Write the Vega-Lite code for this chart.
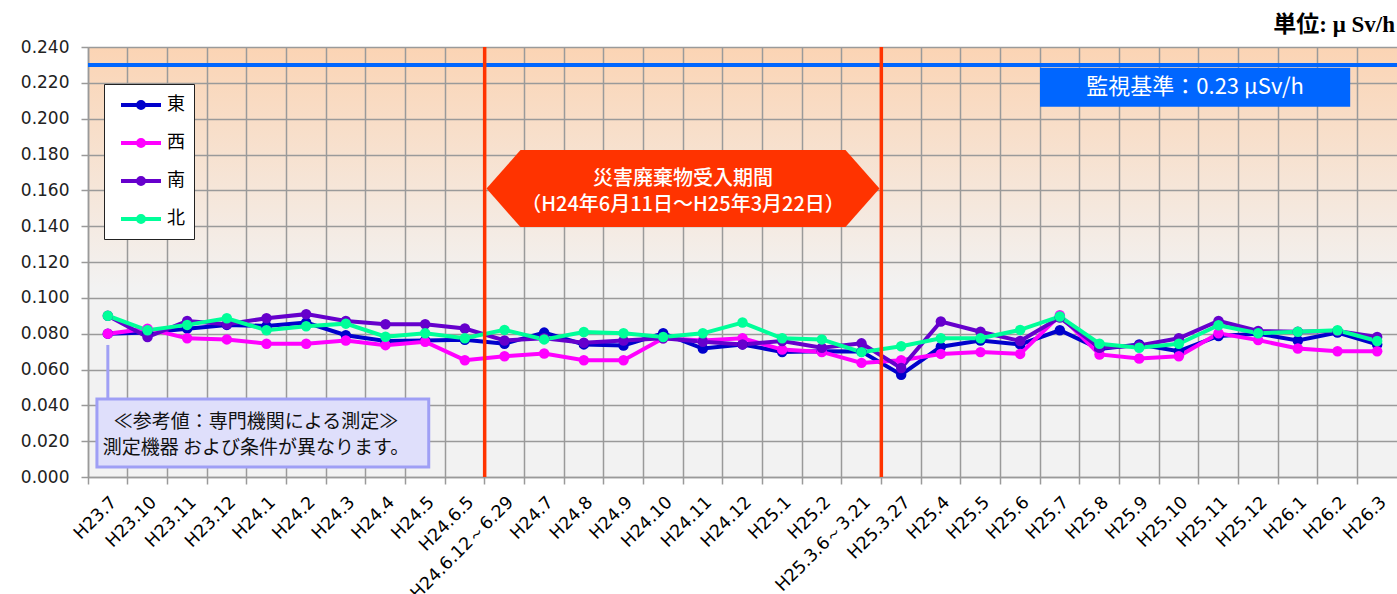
{
  "$schema": "https://vega.github.io/schema/vega-lite/v6.json",
  "width": 1309,
  "height": 430,
  "autosize": "none",
  "padding": {"left": 88, "top": 47, "right": 0, "bottom": 117},
  "background": "white",
  "config": {"axisY": {"labelOverlap": false}, "axisQuantitative": {"labelOverlap": false}},
  "view": {
    "fill": {"gradient": "linear", "x1": 0, "y1": 0, "x2": 0, "y2": 1,
      "stops": [{"offset": 0, "color": "#fbd4b4"}, {"offset": 0.56, "color": "#f2f2f2"}, {"offset": 1, "color": "#f2f2f2"}]},
    "stroke": null
  },
  "title": {
    "text": "単位: μ Sv/h",
    "anchor": "end",
    "font": "Liberation Serif, Noto Sans CJK JP",
    "fontSize": 23,
    "fontWeight": "bold",
    "color": "#000",
    "offset": 1,
    "dx": -4
  },
  "data": {
    "values": [
      {"t": "H23.7", "s": "東", "v": 0.0800}, {"t": "H23.7", "s": "西", "v": 0.0800}, {"t": "H23.7", "s": "南", "v": 0.0900}, {"t": "H23.7", "s": "北", "v": 0.0900},
      {"t": "H23.10", "s": "東", "v": 0.0806}, {"t": "H23.10", "s": "西", "v": 0.0828}, {"t": "H23.10", "s": "南", "v": 0.0781}, {"t": "H23.10", "s": "北", "v": 0.0819},
      {"t": "H23.11", "s": "東", "v": 0.0828}, {"t": "H23.11", "s": "西", "v": 0.0774}, {"t": "H23.11", "s": "南", "v": 0.0871}, {"t": "H23.11", "s": "北", "v": 0.0849},
      {"t": "H23.12", "s": "東", "v": 0.0849}, {"t": "H23.12", "s": "西", "v": 0.0768}, {"t": "H23.12", "s": "南", "v": 0.0853}, {"t": "H23.12", "s": "北", "v": 0.0886},
      {"t": "H24.1", "s": "東", "v": 0.0843}, {"t": "H24.1", "s": "西", "v": 0.0744}, {"t": "H24.1", "s": "南", "v": 0.0886}, {"t": "H24.1", "s": "北", "v": 0.0819},
      {"t": "H24.2", "s": "東", "v": 0.0862}, {"t": "H24.2", "s": "西", "v": 0.0744}, {"t": "H24.2", "s": "南", "v": 0.0909}, {"t": "H24.2", "s": "北", "v": 0.0841},
      {"t": "H24.3", "s": "東", "v": 0.0791}, {"t": "H24.3", "s": "西", "v": 0.0762}, {"t": "H24.3", "s": "南", "v": 0.0871}, {"t": "H24.3", "s": "北", "v": 0.0856},
      {"t": "H24.4", "s": "東", "v": 0.0759}, {"t": "H24.4", "s": "西", "v": 0.0736}, {"t": "H24.4", "s": "南", "v": 0.0853}, {"t": "H24.4", "s": "北", "v": 0.0783},
      {"t": "H24.5", "s": "東", "v": 0.0762}, {"t": "H24.5", "s": "西", "v": 0.0755}, {"t": "H24.5", "s": "南", "v": 0.0853}, {"t": "H24.5", "s": "北", "v": 0.0802},
      {"t": "H24.6.5", "s": "東", "v": 0.0766}, {"t": "H24.6.5", "s": "西", "v": 0.0652}, {"t": "H24.6.5", "s": "南", "v": 0.0829}, {"t": "H24.6.5", "s": "北", "v": 0.0774},
      {"t": "H24.6.12～6.29", "s": "東", "v": 0.0744}, {"t": "H24.6.12～6.29", "s": "西", "v": 0.0674}, {"t": "H24.6.12～6.29", "s": "南", "v": 0.0762}, {"t": "H24.6.12～6.29", "s": "北", "v": 0.0821},
      {"t": "H24.7", "s": "東", "v": 0.0806}, {"t": "H24.7", "s": "西", "v": 0.0689}, {"t": "H24.7", "s": "南", "v": 0.0774}, {"t": "H24.7", "s": "北", "v": 0.0768},
      {"t": "H24.8", "s": "東", "v": 0.0740}, {"t": "H24.8", "s": "西", "v": 0.0652}, {"t": "H24.8", "s": "南", "v": 0.0749}, {"t": "H24.8", "s": "北", "v": 0.0809},
      {"t": "H24.9", "s": "東", "v": 0.0734}, {"t": "H24.9", "s": "西", "v": 0.0652}, {"t": "H24.9", "s": "南", "v": 0.0762}, {"t": "H24.9", "s": "北", "v": 0.0802},
      {"t": "H24.10", "s": "東", "v": 0.0802}, {"t": "H24.10", "s": "西", "v": 0.0774}, {"t": "H24.10", "s": "南", "v": 0.0774}, {"t": "H24.10", "s": "北", "v": 0.0781},
      {"t": "H24.11", "s": "東", "v": 0.0717}, {"t": "H24.11", "s": "西", "v": 0.0762}, {"t": "H24.11", "s": "南", "v": 0.0755}, {"t": "H24.11", "s": "北", "v": 0.0802},
      {"t": "H24.12", "s": "東", "v": 0.0740}, {"t": "H24.12", "s": "西", "v": 0.0774}, {"t": "H24.12", "s": "南", "v": 0.0740}, {"t": "H24.12", "s": "北", "v": 0.0862},
      {"t": "H25.1", "s": "東", "v": 0.0698}, {"t": "H25.1", "s": "西", "v": 0.0711}, {"t": "H25.1", "s": "南", "v": 0.0759}, {"t": "H25.1", "s": "北", "v": 0.0774},
      {"t": "H25.2", "s": "東", "v": 0.0702}, {"t": "H25.2", "s": "西", "v": 0.0698}, {"t": "H25.2", "s": "南", "v": 0.0721}, {"t": "H25.2", "s": "北", "v": 0.0768},
      {"t": "H25.3.6～3.21", "s": "東", "v": 0.0700}, {"t": "H25.3.6～3.21", "s": "西", "v": 0.0637}, {"t": "H25.3.6～3.21", "s": "南", "v": 0.0746}, {"t": "H25.3.6～3.21", "s": "北", "v": 0.0697},
      {"t": "H25.3.27", "s": "東", "v": 0.0571}, {"t": "H25.3.27", "s": "西", "v": 0.0652}, {"t": "H25.3.27", "s": "南", "v": 0.0608}, {"t": "H25.3.27", "s": "北", "v": 0.0730},
      {"t": "H25.4", "s": "東", "v": 0.0727}, {"t": "H25.4", "s": "西", "v": 0.0687}, {"t": "H25.4", "s": "南", "v": 0.0868}, {"t": "H25.4", "s": "北", "v": 0.0774},
      {"t": "H25.5", "s": "東", "v": 0.0762}, {"t": "H25.5", "s": "西", "v": 0.0697}, {"t": "H25.5", "s": "南", "v": 0.0811}, {"t": "H25.5", "s": "北", "v": 0.0774},
      {"t": "H25.6", "s": "東", "v": 0.0740}, {"t": "H25.6", "s": "西", "v": 0.0687}, {"t": "H25.6", "s": "南", "v": 0.0759}, {"t": "H25.6", "s": "北", "v": 0.0821},
      {"t": "H25.7", "s": "東", "v": 0.0819}, {"t": "H25.7", "s": "西", "v": 0.0903}, {"t": "H25.7", "s": "南", "v": 0.0890}, {"t": "H25.7", "s": "北", "v": 0.0896},
      {"t": "H25.8", "s": "東", "v": 0.0715}, {"t": "H25.8", "s": "西", "v": 0.0684}, {"t": "H25.8", "s": "南", "v": 0.0721}, {"t": "H25.8", "s": "北", "v": 0.0744},
      {"t": "H25.9", "s": "東", "v": 0.0740}, {"t": "H25.9", "s": "西", "v": 0.0661}, {"t": "H25.9", "s": "南", "v": 0.0734}, {"t": "H25.9", "s": "北", "v": 0.0721},
      {"t": "H25.10", "s": "東", "v": 0.0702}, {"t": "H25.10", "s": "西", "v": 0.0674}, {"t": "H25.10", "s": "南", "v": 0.0774}, {"t": "H25.10", "s": "北", "v": 0.0744},
      {"t": "H25.11", "s": "東", "v": 0.0787}, {"t": "H25.11", "s": "西", "v": 0.0802}, {"t": "H25.11", "s": "南", "v": 0.0871}, {"t": "H25.11", "s": "北", "v": 0.0847},
      {"t": "H25.12", "s": "東", "v": 0.0800}, {"t": "H25.12", "s": "西", "v": 0.0764}, {"t": "H25.12", "s": "南", "v": 0.0815}, {"t": "H25.12", "s": "北", "v": 0.0802},
      {"t": "H26.1", "s": "東", "v": 0.0762}, {"t": "H26.1", "s": "西", "v": 0.0717}, {"t": "H26.1", "s": "南", "v": 0.0811}, {"t": "H26.1", "s": "北", "v": 0.0811},
      {"t": "H26.2", "s": "東", "v": 0.0806}, {"t": "H26.2", "s": "西", "v": 0.0702}, {"t": "H26.2", "s": "南", "v": 0.0815}, {"t": "H26.2", "s": "北", "v": 0.0819},
      {"t": "H26.3", "s": "東", "v": 0.0740}, {"t": "H26.3", "s": "西", "v": 0.0702}, {"t": "H26.3", "s": "南", "v": 0.0781}, {"t": "H26.3", "s": "北", "v": 0.0759}
    ]
  },
  "layer": [
    {
      "mark": {"type": "line", "strokeWidth": 4},
      "encoding": {
        "x": {
          "field": "t", "type": "nominal",
          "scale": {"type": "band", "paddingInner": 0, "paddingOuter": 0,
            "domain": ["H23.7", "H23.10", "H23.11", "H23.12", "H24.1", "H24.2", "H24.3", "H24.4", "H24.5", "H24.6.5", "H24.6.12～6.29", "H24.7", "H24.8", "H24.9", "H24.10", "H24.11", "H24.12", "H25.1", "H25.2", "H25.3.6～3.21", "H25.3.27", "H25.4", "H25.5", "H25.6", "H25.7", "H25.8", "H25.9", "H25.10", "H25.11", "H25.12", "H26.1", "H26.2", "H26.3"]},
          "axis": {"title": null, "bandPosition": 0, "labelAngle": -45, "labelOverlap": false,
            "grid": true, "gridColor": "#9a9a9a", "gridWidth": 1.5,
            "tickColor": "#9a9a9a", "tickWidth": 1.5, "tickSize": 7,
            "domainColor": "#9a9a9a", "domainWidth": 1.5,
            "labelFont": "DejaVu Sans", "labelFontSize": 17.5, "labelColor": "#000", "labelPadding": 9}
        },
        "y": {
          "field": "v", "type": "quantitative",
          "scale": {"domain": [0, 0.24], "nice": false},
          "axis": {"title": null, "values": [0, 0.02, 0.04, 0.06, 0.08, 0.1, 0.12, 0.14, 0.16, 0.18, 0.2, 0.22, 0.24], "format": ".3f", "labelOverlap": false, "grid": true, "gridColor": "#9a9a9a", "gridWidth": 1.5, "tickColor": "#9a9a9a", "tickWidth": 1.5, "tickSize": 7, "domainColor": "#9a9a9a", "domainWidth": 1.5, "labelFont": "DejaVu Sans", "labelFontSize": 17, "labelColor": "#222", "labelPadding": 12}
        },
        "color": {
          "field": "s", "type": "nominal",
          "scale": {"domain": ["東", "西", "南", "北"], "range": ["#0000cc", "#ff00ff", "#6600cc", "#00ff99"]},
          "legend": {"title": null, "orient": "none", "legendX": 16, "legendY": 37, "direction": "vertical",
            "symbolType": "M-0.4,0 L3.6,0 M1.3,0 A0.3,0.3 0 1,0 1.9,0 A0.3,0.3 0 1,0 1.3,0 Z",
            "symbolSize": 400, "symbolStrokeWidth": 4,
            "labelFont": "Noto Sans CJK JP", "labelFontSize": 18, "labelColor": "#000", "labelOffset": 30,
            "padding": 9, "rowPadding": 15, "fillColor": "white", "strokeColor": "#222",
            "encode": {"symbols": {"update": {"fill": {"scale": "color", "field": "value"}, "stroke": {"scale": "color", "field": "value"}, "strokeWidth": {"value": 4}}}}}
        }
      }
    },
    {
      "mark": {"type": "rule", "color": "#0066ff", "strokeWidth": 4},
      "data": {"values": [{}]},
      "encoding": {"y": {"datum": 0.23, "type": "quantitative",
        "axis": {"title": null, "values": [0, 0.02, 0.04, 0.06, 0.08, 0.1, 0.12, 0.14, 0.16, 0.18, 0.2, 0.22, 0.24], "format": ".3f", "labelOverlap": false, "grid": true, "gridColor": "#9a9a9a", "gridWidth": 1.5, "tickColor": "#9a9a9a", "tickWidth": 1.5, "tickSize": 7, "domainColor": "#9a9a9a", "domainWidth": 1.5, "labelFont": "DejaVu Sans", "labelFontSize": 17, "labelColor": "#222", "labelPadding": 12}}}
    },
    {
      "mark": {"type": "rule", "color": "#a0a0f5", "strokeWidth": 3},
      "data": {"values": [{}]},
      "encoding": {
        "x": {"datum": "H23.7", "type": "nominal", "bandPosition": 0.5},
        "y": {"datum": 0.0737, "type": "quantitative",
          "axis": {"title": null, "values": [0, 0.02, 0.04, 0.06, 0.08, 0.1, 0.12, 0.14, 0.16, 0.18, 0.2, 0.22, 0.24], "format": ".3f", "labelOverlap": false, "grid": true, "gridColor": "#9a9a9a", "gridWidth": 1.5, "tickColor": "#9a9a9a", "tickWidth": 1.5, "tickSize": 7, "domainColor": "#9a9a9a", "domainWidth": 1.5, "labelFont": "DejaVu Sans", "labelFontSize": 17, "labelColor": "#222", "labelPadding": 12}},
        "y2": {"datum": 0.0435}
      }
    },
    {
      "mark": {"type": "rect", "fill": "#dfdffb", "stroke": "#9f9ff5", "strokeWidth": 3},
      "data": {"values": [{}]},
      "encoding": {
        "x": {"datum": "H23.7", "type": "nominal", "bandPosition": 0.225},
        "x2": {"datum": "H24.5", "bandPosition": 0.59},
        "y": {"datum": 0.0435, "type": "quantitative",
          "axis": {"title": null, "values": [0, 0.02, 0.04, 0.06, 0.08, 0.1, 0.12, 0.14, 0.16, 0.18, 0.2, 0.22, 0.24], "format": ".3f", "labelOverlap": false, "grid": true, "gridColor": "#9a9a9a", "gridWidth": 1.5, "tickColor": "#9a9a9a", "tickWidth": 1.5, "tickSize": 7, "domainColor": "#9a9a9a", "domainWidth": 1.5, "labelFont": "DejaVu Sans", "labelFontSize": 17, "labelColor": "#222", "labelPadding": 12}},
        "y2": {"datum": 0.0056}
      }
    },
    {
      "mark": {"type": "text", "text": ["≪参考値：専門機関による測定≫", "測定機器 および条件が異なります。"], "font": "Noto Sans CJK JP", "fontSize": 19, "color": "#111", "lineHeight": 26, "align": "center", "baseline": "middle"},
      "data": {"values": [{}]},
      "encoding": {
        "x": {"datum": "H24.1", "type": "nominal", "bandPosition": 0.235},
        "y": {"datum": 0.0307, "type": "quantitative",
          "axis": {"title": null, "values": [0, 0.02, 0.04, 0.06, 0.08, 0.1, 0.12, 0.14, 0.16, 0.18, 0.2, 0.22, 0.24], "format": ".3f", "labelOverlap": false, "grid": true, "gridColor": "#9a9a9a", "gridWidth": 1.5, "tickColor": "#9a9a9a", "tickWidth": 1.5, "tickSize": 7, "domainColor": "#9a9a9a", "domainWidth": 1.5, "labelFont": "DejaVu Sans", "labelFontSize": 17, "labelColor": "#222", "labelPadding": 12}}
      }
    },
    {
      "mark": {"type": "point", "filled": true, "size": 110, "opacity": 1},
      "encoding": {
        "x": {"field": "t", "type": "nominal"},
        "y": {"field": "v", "type": "quantitative",
          "axis": {"title": null, "values": [0, 0.02, 0.04, 0.06, 0.08, 0.1, 0.12, 0.14, 0.16, 0.18, 0.2, 0.22, 0.24], "format": ".3f", "labelOverlap": false, "grid": true, "gridColor": "#9a9a9a", "gridWidth": 1.5, "tickColor": "#9a9a9a", "tickWidth": 1.5, "tickSize": 7, "domainColor": "#9a9a9a", "domainWidth": 1.5, "labelFont": "DejaVu Sans", "labelFontSize": 17, "labelColor": "#222", "labelPadding": 12}},
        "color": {"field": "s", "type": "nominal", "legend": null}
      }
    },
    {
      "mark": {"type": "rule", "color": "#ff3300", "strokeWidth": 3.5},
      "data": {"values": [{"t": "H24.6.12～6.29"}, {"t": "H25.3.27"}]},
      "encoding": {"x": {"field": "t", "type": "nominal", "bandPosition": 0}}
    },
    {
      "mark": {"type": "point", "shape": "M-1,0 L-0.827,-0.196 L0.827,-0.196 L1,0 L0.827,0.196 L-0.827,0.196 Z", "size": 154449, "filled": true, "color": "#ff3300", "opacity": 1, "strokeWidth": 0},
      "data": {"values": [{}]},
      "encoding": {
        "x": {"datum": "H24.11", "type": "nominal", "bandPosition": 0},
        "y": {"datum": 0.161, "type": "quantitative",
          "axis": {"title": null, "values": [0, 0.02, 0.04, 0.06, 0.08, 0.1, 0.12, 0.14, 0.16, 0.18, 0.2, 0.22, 0.24], "format": ".3f", "labelOverlap": false, "grid": true, "gridColor": "#9a9a9a", "gridWidth": 1.5, "tickColor": "#9a9a9a", "tickWidth": 1.5, "tickSize": 7, "domainColor": "#9a9a9a", "domainWidth": 1.5, "labelFont": "DejaVu Sans", "labelFontSize": 17, "labelColor": "#222", "labelPadding": 12}}
      }
    },
    {
      "mark": {"type": "text", "text": ["災害廃棄物受入期間", "（H24年6月11日～H25年3月22日）"], "font": "Noto Sans CJK JP", "fontSize": 20, "fontWeight": 500, "color": "white", "lineHeight": 26, "align": "center", "baseline": "middle"},
      "data": {"values": [{}]},
      "encoding": {
        "x": {"datum": "H24.11", "type": "nominal", "bandPosition": 0},
        "y": {"datum": 0.1665, "type": "quantitative",
          "axis": {"title": null, "values": [0, 0.02, 0.04, 0.06, 0.08, 0.1, 0.12, 0.14, 0.16, 0.18, 0.2, 0.22, 0.24], "format": ".3f", "labelOverlap": false, "grid": true, "gridColor": "#9a9a9a", "gridWidth": 1.5, "tickColor": "#9a9a9a", "tickWidth": 1.5, "tickSize": 7, "domainColor": "#9a9a9a", "domainWidth": 1.5, "labelFont": "DejaVu Sans", "labelFontSize": 17, "labelColor": "#222", "labelPadding": 12}}
      }
    },
    {
      "mark": {"type": "rect", "fill": "#0066ff"},
      "data": {"values": [{}]},
      "encoding": {
        "x": {"datum": "H25.7", "type": "nominal", "bandPosition": 0},
        "x2": {"datum": "H26.2", "bandPosition": 0.82},
        "y": {"datum": 0.2284, "type": "quantitative",
          "axis": {"title": null, "values": [0, 0.02, 0.04, 0.06, 0.08, 0.1, 0.12, 0.14, 0.16, 0.18, 0.2, 0.22, 0.24], "format": ".3f", "labelOverlap": false, "grid": true, "gridColor": "#9a9a9a", "gridWidth": 1.5, "tickColor": "#9a9a9a", "tickWidth": 1.5, "tickSize": 7, "domainColor": "#9a9a9a", "domainWidth": 1.5, "labelFont": "DejaVu Sans", "labelFontSize": 17, "labelColor": "#222", "labelPadding": 12}},
        "y2": {"datum": 0.2067}
      }
    },
    {
      "mark": {"type": "text", "text": "監視基準：0.23 μSv/h", "font": "Noto Sans CJK JP", "fontSize": 22, "color": "white", "align": "center", "baseline": "middle"},
      "data": {"values": [{}]},
      "encoding": {
        "x": {"datum": "H25.10", "type": "nominal", "bandPosition": 0.91},
        "y": {"datum": 0.2175, "type": "quantitative",
          "axis": {"title": null, "values": [0, 0.02, 0.04, 0.06, 0.08, 0.1, 0.12, 0.14, 0.16, 0.18, 0.2, 0.22, 0.24], "format": ".3f", "labelOverlap": false, "grid": true, "gridColor": "#9a9a9a", "gridWidth": 1.5, "tickColor": "#9a9a9a", "tickWidth": 1.5, "tickSize": 7, "domainColor": "#9a9a9a", "domainWidth": 1.5, "labelFont": "DejaVu Sans", "labelFontSize": 17, "labelColor": "#222", "labelPadding": 12}}
      }
    }
  ]
}
